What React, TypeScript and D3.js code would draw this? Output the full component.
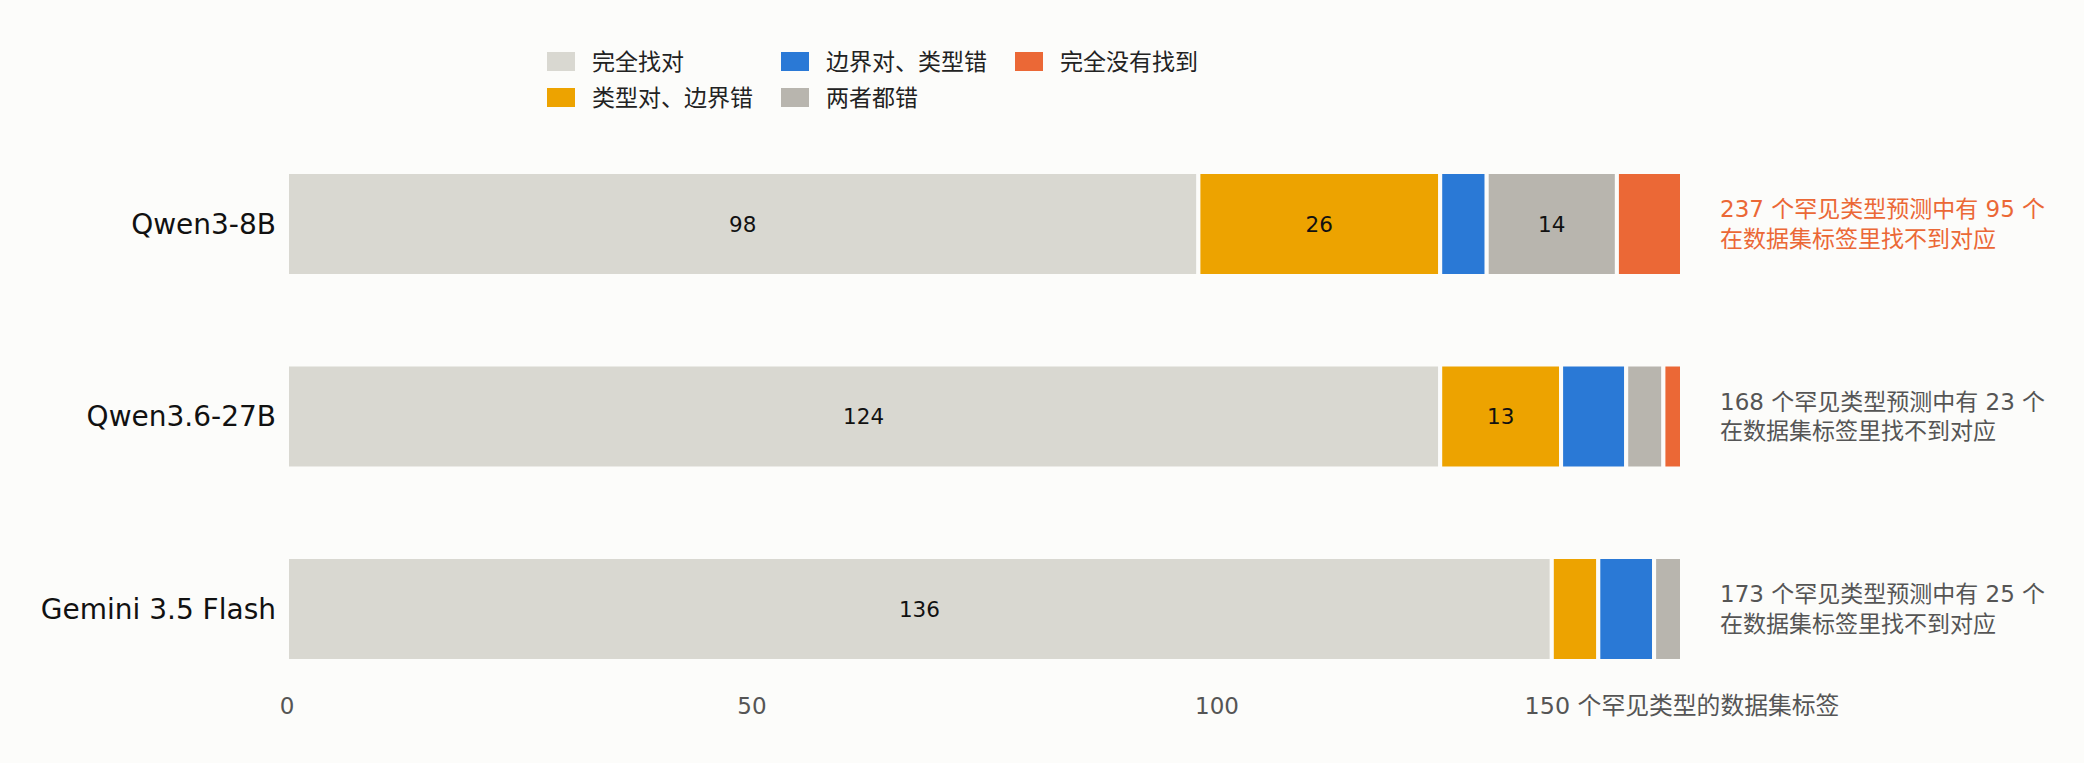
import React, { useEffect, useRef } from 'react'
import * as d3 from 'd3'

// 三个模型在 150 个罕见类型数据集标签上的匹配情况
const models = ['Qwen3-8B', 'Qwen3.6-27B', 'Gemini 3.5 Flash']
const categories = ['完全找对', '类型对、边界错', '边界对、类型错', '两者都错', '完全没有找到']
const colors = ['#d9d8d1', '#eda300', '#2a79d6', '#b8b5ae', '#eb6836']

const exact = [98, 124, 136]
const typeRight = [26, 13, 5]
const boundRight = [5, 7, 6]
const bothWrong = [14, 4, 3]
const missed = [7, 2, 0]

const totalPred = [237, 168, 173]
const unmatched = [95, 23, 25]
const highlight = [true, false, false]

const xTicks = [0, 50, 100, 150]
const xLastLabel = '150 个罕见类型的数据集标签'

const W = 2084
const H = 763
const BG = '#fcfcfa'
const FONT = '"DejaVu Sans", "Noto Sans CJK SC", sans-serif'

const App = () => {
  const refSvg = useRef(null)

  const draw = () => {
    const svg = d3.select(refSvg.current)
    svg.selectAll('*').remove()
    svg.append('rect').attr('width', W).attr('height', H).attr('fill', BG)

    const rows = models.map((m, i) => ({
      model: m,
      c0: exact[i],
      c1: typeRight[i],
      c2: boundRight[i],
      c3: bothWrong[i],
      c4: missed[i],
    }))
    const keys = ['c0', 'c1', 'c2', 'c3', 'c4']
    const series = d3.stack().keys(keys)(rows as any)

    const x = d3.scaleLinear().domain([0, 150]).range([287, 1682])
    const y = d3.scalePoint().domain(models).range([224, 609])
    const barH = 104

    // bars
    series.forEach((s, k) => {
      const g = svg.append('g')
      g.selectAll('rect')
        .data(s.filter((d) => d[1] - d[0] > 0))
        .enter()
        .append('rect')
        .attr('x', (d) => x(d[0]))
        .attr('y', (d) => (y((d.data as any).model) as number) - barH / 2)
        .attr('width', (d) => x(d[1]) - x(d[0]))
        .attr('height', barH)
        .attr('fill', colors[k])
        .attr('stroke', BG)
        .attr('stroke-width', 4)

      g.selectAll('text')
        .data(s.filter((d) => d[1] - d[0] >= 10))
        .enter()
        .append('text')
        .attr('x', (d) => x((d[0] + d[1]) / 2))
        .attr('y', (d) => y((d.data as any).model) as number)
        .attr('text-anchor', 'middle')
        .attr('dominant-baseline', 'central')
        .style('font-family', FONT)
        .style('font-size', '21.5px')
        .attr('fill', '#111')
        .text((d) => d[1] - d[0])
    })

    // model labels
    svg
      .append('g')
      .selectAll('text')
      .data(models)
      .enter()
      .append('text')
      .attr('x', 276)
      .attr('y', (d) => y(d) as number)
      .attr('text-anchor', 'end')
      .attr('dominant-baseline', 'central')
      .style('font-family', FONT)
      .style('font-size', '28px')
      .attr('fill', '#111')
      .text((d) => d)

    // x tick labels
    svg
      .append('g')
      .selectAll('text')
      .data(xTicks)
      .enter()
      .append('text')
      .attr('x', (d) => x(d))
      .attr('y', 706)
      .attr('text-anchor', 'middle')
      .attr('dominant-baseline', 'central')
      .style('font-family', FONT)
      .style('font-size', (d) => (d === 150 ? '23.8px' : '23px'))
      .attr('fill', '#555')
      .text((d) => (d === 150 ? xLastLabel : String(d)))

    // annotations on the right
    const ann = svg.append('g')
    models.forEach((m, i) => {
      const t = ann
        .append('text')
        .attr('x', 1720)
        .attr('y', y(m) as number)
        .style('font-family', FONT)
        .style('font-size', '23px')
        .attr('fill', highlight[i] ? '#eb6836' : '#555')
      t.append('tspan')
        .attr('x', 1720)
        .attr('dy', -14.6)
        .attr('dominant-baseline', 'central')
        .text(`${totalPred[i]} 个罕见类型预测中有 ${unmatched[i]} 个`)
      t.append('tspan')
        .attr('x', 1720)
        .attr('dy', 29.2)
        .attr('dominant-baseline', 'central')
        .text('在数据集标签里找不到对应')
    })

    // legend, filled column by column
    const colX = [547, 781, 1015]
    const rowY = [61.5, 97.5]
    const leg = svg
      .append('g')
      .selectAll('g')
      .data(categories)
      .enter()
      .append('g')
      .attr('transform', (d, i) => `translate(${colX[Math.floor(i / 2)]},${rowY[i % 2]})`)
    leg
      .append('rect')
      .attr('x', 0)
      .attr('y', -9.5)
      .attr('width', 28)
      .attr('height', 19)
      .attr('fill', (d, i) => colors[i])
    leg
      .append('text')
      .attr('x', 45)
      .attr('y', 0)
      .attr('dominant-baseline', 'central')
      .style('font-family', FONT)
      .style('font-size', '23px')
      .attr('fill', '#222')
      .text((d) => d)
  }

  useEffect(() => {
    document.body.style.margin = '0'
    if (refSvg) {
      draw()
    }
  })

  return <svg ref={refSvg} width={W} height={H} style={{ display: 'block' }} />
}

export default App
